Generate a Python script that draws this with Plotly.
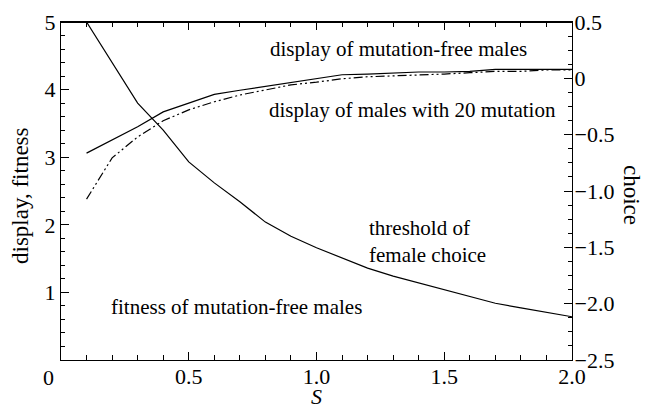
import plotly.graph_objects as go

s_vals = [0.1, 0.2, 0.3, 0.4, 0.5, 0.6, 0.7, 0.8, 0.9, 1.0,
          1.1, 1.2, 1.3, 1.4, 1.5, 1.6, 1.7, 1.8, 1.9, 2.0]
display_free = [3.06, 3.25, 3.45, 3.67, 3.80, 3.93, 3.99, 4.05, 4.10, 4.16,
                4.22, 4.23, 4.25, 4.26, 4.26, 4.27, 4.30, 4.30, 4.30, 4.30]
display_mut20 = [2.38, 2.99, 3.30, 3.54, 3.70, 3.82, 3.92, 3.99, 4.07, 4.11,
                 4.16, 4.19, 4.20, 4.22, 4.23, 4.25, 4.27, 4.27, 4.29, 4.29]
threshold = [5.00, 4.41, 3.80, 3.40, 2.93, 2.62, 2.34, 2.04, 1.83, 1.66,
             1.51, 1.36, 1.24, 1.14, 1.04, 0.93, 0.84, 0.77, 0.71, 0.64]

x_tickvals = [0.5, 1.0, 1.5, 2.0]
x_ticktext = ["0.5", "1.0", "1.5", "2.0"]
yl_tickvals = [1, 2, 3, 4, 5]
yl_ticktext = ["1", "2", "3", "4", "5"]
yr_tickvals = [0.5, 0, -0.5, -1.0, -1.5, -2.0, -2.5]
yr_ticktext = ["0.5", "0", "\u22120.5", "\u22121.0", "\u22121.5", "\u22122.0", "\u22122.5"]

FONT = "Liberation Serif, Times New Roman, serif"

fig = go.Figure()
fig.add_trace(go.Scatter(x=s_vals, y=display_free, mode="lines",
                         line=dict(color="black", width=1.2), showlegend=False))
fig.add_trace(go.Scatter(x=s_vals, y=display_mut20, mode="lines",
                         line=dict(color="black", width=1.2, dash="9px,3px,2px,3px,2px,3px"),
                         showlegend=False))
fig.add_trace(go.Scatter(x=s_vals, y=threshold, mode="lines",
                         line=dict(color="black", width=1.2), showlegend=False))
# invisible traces to activate right and top axes
fig.add_trace(go.Scatter(x=[None], y=[None], yaxis="y2", showlegend=False, hoverinfo="skip"))
fig.add_trace(go.Scatter(x=[0, 2], y=[None, None], xaxis="x2", showlegend=False, hoverinfo="skip"))

axis_common = dict(showgrid=False, zeroline=False, showline=True, linecolor="black",
                   linewidth=1.2, ticks="inside", tickcolor="black", automargin=False,
                   tickfont=dict(family=FONT, size=22, color="black"))

fig.update_layout(
    width=646, height=408,
    margin=dict(l=61, r=74, t=22, b=48, autoexpand=False),
    paper_bgcolor="white", plot_bgcolor="white",
    font=dict(family=FONT, color="black"),
    xaxis=dict(range=[0, 2.0], tickvals=x_tickvals, ticktext=x_ticktext,
               ticklen=8, ticklabelstandoff=-4,
               minor=dict(dtick=0.1, tick0=0, ticklen=5, ticks="inside", tickcolor="black"),
               **axis_common),
    xaxis2=dict(range=[0, 2.0], tickvals=x_tickvals, showticklabels=False,
                overlaying="x", side="top", anchor="y", ticklen=8,
                minor=dict(dtick=0.1, tick0=0, ticklen=5, ticks="inside", tickcolor="black"),
                **axis_common),
    yaxis=dict(range=[0, 5], tickvals=yl_tickvals, ticktext=yl_ticktext,
               ticklen=8,
               minor=dict(dtick=0.2, tick0=0, ticklen=4, ticks="inside", tickcolor="black"),
               **axis_common),
    yaxis2=dict(range=[-2.5, 0.5], tickvals=yr_tickvals, ticktext=yr_ticktext,
                overlaying="y", side="right", ticklen=8, ticklabelstandoff=-3,
                minor=dict(dtick=0.125, tick0=0, ticklen=4, ticks="inside", tickcolor="black"),
                **axis_common),
)

# top frame line
fig.add_shape(type="line", xref="paper", yref="paper", x0=0, x1=1, y0=0.999, y1=0.999,
              line=dict(color="black", width=1.5), layer="above")

ann_font = dict(family=FONT, size=21, color="black")
annotations = [
    dict(text="display of mutation-free males", x=398, y=49),
    dict(text="display of males with 20 mutation", x=412, y=110),
    dict(text="fitness of mutation-free males", x=236, y=307),
]
for a in annotations:
    fig.add_annotation(text=a["text"], xref="paper", yref="paper",
                       x=(a["x"] - 61) / 511, y=(360 - a["y"]) / 338,
                       xanchor="center", yanchor="middle", showarrow=False, font=ann_font)
fig.add_annotation(text="threshold of<br>female choice", xref="paper", yref="paper",
                   x=(367 - 61) / 511, y=(360 - 241) / 338, xanchor="left", yanchor="middle",
                   align="left", showarrow=False, font=ann_font)
# stray zero label at bottom-left corner
fig.add_annotation(text="0", xref="paper", yref="paper", x=(48 - 61) / 511, y=(360 - 377) / 338,
                   xanchor="center", yanchor="middle", showarrow=False,
                   font=dict(family=FONT, size=22, color="black"))
# axis titles
fig.add_annotation(text="<i>S</i>", xref="paper", yref="paper", x=(316 - 61) / 511,
                   y=(360 - 396) / 338, xanchor="center", yanchor="middle", showarrow=False,
                   font=dict(family=FONT, size=22, color="black"))
fig.add_annotation(text="display, fitness", xref="paper", yref="paper", x=(20 - 61) / 511,
                   y=(360 - 196) / 338, xanchor="center", yanchor="middle", textangle=-90,
                   showarrow=False, font=dict(family=FONT, size=23, color="black"))
fig.add_annotation(text="choice", xref="paper", yref="paper", x=(632 - 61) / 511,
                   y=(360 - 195) / 338, xanchor="center", yanchor="middle", textangle=90,
                   showarrow=False, font=dict(family=FONT, size=23, color="black"))

fig.write_html("out.html", config={"displayModeBar": False},
               post_script="document.body.style.margin='0';document.body.style.padding='0';")
